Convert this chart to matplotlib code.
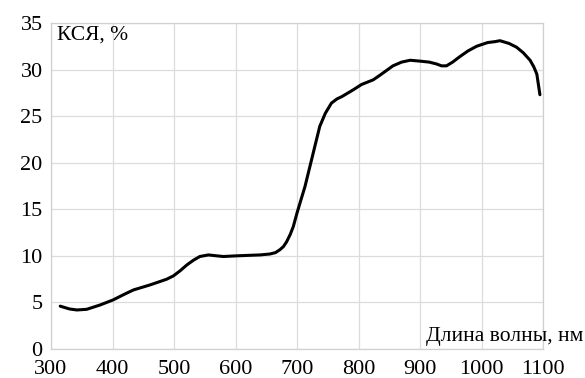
import matplotlib
matplotlib.use("Agg")
import matplotlib.pyplot as plt

wavelength = [315, 321, 330, 342, 358, 380, 401, 420, 434, 461, 488, 499, 510, 521, 532, 542,
              556, 570, 580, 601, 620, 640, 656, 665, 672, 678, 683, 689, 694, 700, 705, 713,
              721, 729, 737, 746, 756, 765, 773, 792, 805, 824, 835, 856, 870, 884, 901, 915,
              927, 935, 943, 953, 965, 978, 992, 1010, 1022, 1030, 1045, 1057, 1068, 1079,
              1085, 1090, 1095]
ksr = [4.6, 4.48, 4.3, 4.19, 4.26, 4.73, 5.27, 5.9, 6.34, 6.88, 7.49, 7.85, 8.4, 9.03, 9.55, 9.93,
       10.1, 10.0, 9.93, 10.0, 10.05, 10.1, 10.2, 10.35, 10.65, 11.0, 11.5, 12.3, 13.15, 14.6, 15.7, 17.45,
       19.6, 21.75, 23.9, 25.3, 26.4, 26.85, 27.1, 27.85, 28.4, 28.9, 29.4, 30.4, 30.8, 31.0, 30.9, 30.8,
       30.6, 30.4, 30.4, 30.8, 31.4, 32.0, 32.5, 32.9, 33.0, 33.1, 32.8, 32.4, 31.8, 31.0,
       30.3, 29.5, 27.3]

xticks = [300, 400, 500, 600, 700, 800, 900, 1000, 1100]
yticks = [0, 5, 10, 15, 20, 25, 30, 35]

plt.rcParams['font.family'] = ['Liberation Serif', 'DejaVu Serif']

fig = plt.figure(figsize=(5.85, 3.78), dpi=100)
ax = fig.add_axes([51/585, 1-349/378, (543-51)/585, (349-23)/378])

ax.plot(wavelength, ksr, color='black', linewidth=2.2, solid_capstyle='round',
        solid_joinstyle='round')

ax.set_xlim(300, 1100)
ax.set_ylim(0, 35)
ax.set_xticks(xticks)
ax.set_yticks(yticks)
ax.tick_params(length=0, labelsize=16)
ax.tick_params(axis='x', pad=8)
ax.tick_params(axis='y', pad=6)
ax.grid(True, color='#dcdcdc', linewidth=0.9)
for s in ax.spines.values():
    s.set_color('#d0d0d0')
    s.set_linewidth(0.9)
ax.set_axisbelow(True)

ax.text(57/585, 1-26/378, 'КСЯ, %', transform=fig.transFigure, fontsize=15.5, va='top', ha='left')
ax.text(583/585, 1-336/378, 'Длина волны, нм', transform=fig.transFigure, fontsize=15.5,
        va='center', ha='right')

fig.savefig('out.png', dpi=100)
